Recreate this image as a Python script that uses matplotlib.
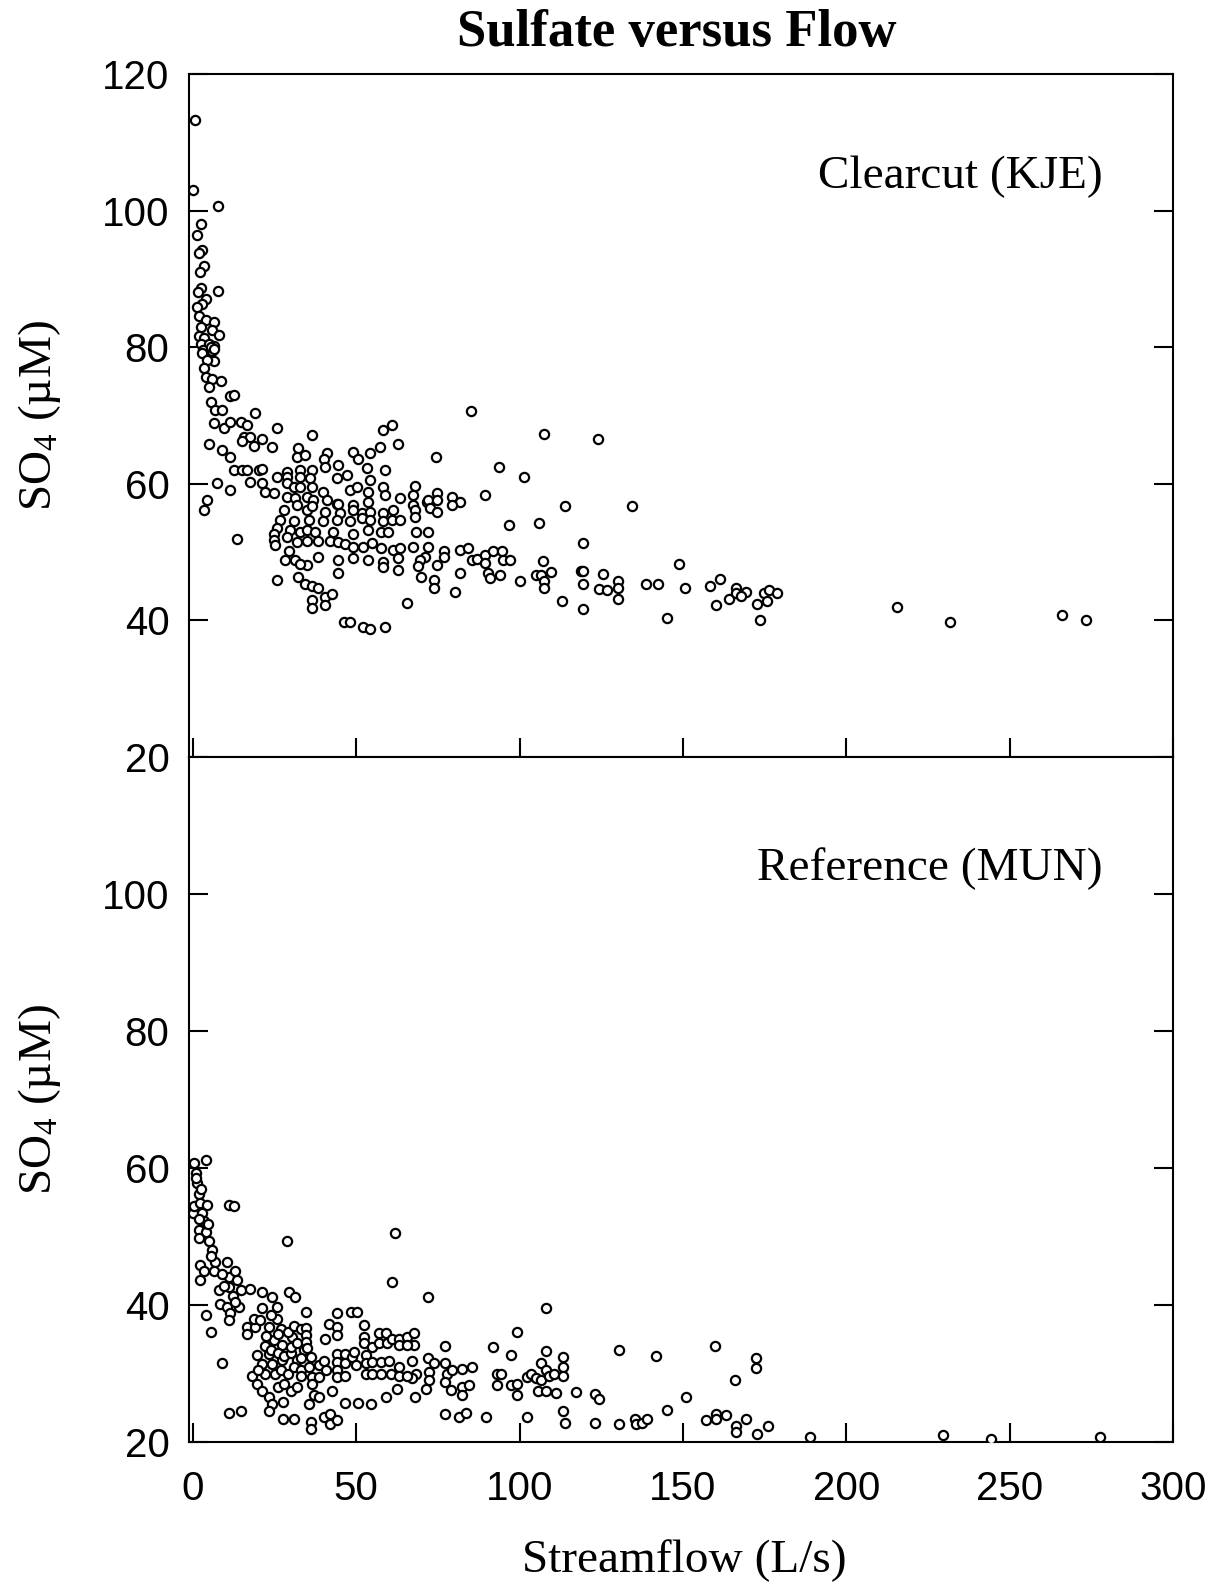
import matplotlib
matplotlib.use('Agg')
import matplotlib.pyplot as plt
import numpy as np

plt.rcParams['font.family'] = 'Liberation Serif'
plt.rcParams['mathtext.fontset'] = 'custom'
plt.rcParams['mathtext.rm'] = 'Liberation Serif'
plt.rcParams['mathtext.it'] = 'Liberation Serif:italic'

# Clearcut watershed (KJE): streamflow (L/s) and SO4 (uM)
kje_pts = [
    (0.6, 113.3), (0, 103.0), (7.7, 100.7), (2.4, 98.0), (1.3, 96.4), (2.9, 94.3), (1.8, 93.8),
    (3.4, 91.9), (2.1, 91.0), (2.4, 88.6), (1.7, 88.1), (7.7, 88.2), (3.9, 87.0), (2.9, 86.4),
    (1.3, 85.9), (1.8, 84.5), (3.9, 84.0), (6.4, 83.7), (2.6, 83.0), (5.9, 82.5), (7.9, 81.8),
    (1.8, 81.7), (3.4, 81.4), (2.4, 80.5), (5.0, 80.5), (6.5, 80.2), (3.0, 79.6), (5.8, 79.4),
    (5.4, 80.1), (6.4, 79.8), (2.9, 79.1), (6.4, 78.0), (4.4, 78.1), (3.4, 76.9), (3.9, 75.7),
    (5.9, 75.3), (8.5, 75.0), (4.9, 74.2), (11.5, 72.8), (12.5, 73.0), (5.4, 72.0), (6.9, 70.8),
    (9.0, 70.8), (19.1, 70.3), (6.4, 68.9), (9.5, 68.1), (11.5, 69.1), (14.6, 69.1), (16.6, 68.6),
    (25.7, 68.1), (36.4, 67.2), (15.6, 66.9), (17.6, 66.9), (21.2, 66.5), (15.1, 66.2), (18.6, 65.5),
    (24.2, 65.4), (4.9, 65.8), (9.0, 65.0), (11.5, 64.0), (60.8, 68.6), (58.3, 67.9), (62.8, 65.9),
    (57.2, 65.4), (32.3, 65.2), (31.8, 64.0), (34.4, 64.2), (41.0, 64.5), (40.0, 63.7), (49.1, 64.7),
    (50.6, 63.6), (54.2, 64.5), (44.5, 62.7), (40.5, 62.5), (12.5, 62.0), (15.1, 62.0), (16.6, 62.0),
    (20.1, 62.0), (21.2, 62.1), (28.8, 61.8), (32.8, 62.0), (36.4, 62.0), (28.8, 61.0), (32.8, 61.0),
    (35.9, 60.8), (47.1, 61.3), (44.0, 60.8), (53.2, 62.3), (58.8, 62.0), (54.2, 60.5), (7.4, 60.1),
    (11.5, 59.1), (17.6, 60.3), (21.2, 60.1), (22.2, 58.8), (24.7, 58.6), (25.7, 61.0), (28.8, 60.1),
    (30.8, 59.6), (32.8, 59.6), (36.4, 59.6), (39.9, 58.8), (48.1, 59.1), (50.1, 59.6), (53.7, 58.8),
    (58.3, 59.6), (58.8, 58.4), (67.9, 59.7), (67.4, 58.4), (71.5, 57.4), (4.4, 57.6), (3.4, 56.2),
    (28.8, 58.1), (31.3, 57.9), (34.9, 58.1), (36.9, 57.6), (41.0, 57.6), (44.0, 57.1), (44.5, 57.1),
    (49.1, 56.9), (53.7, 57.4), (27.8, 56.2), (31.8, 56.9), (34.9, 56.2), (36.4, 56.7), (40.5, 55.9),
    (45.0, 55.7), (49.1, 56.2), (51.6, 55.7), (54.2, 55.9), (58.3, 55.7), (61.3, 56.2), (63.3, 57.9),
    (67.4, 56.9), (67.9, 56.2), (26.7, 54.7), (30.8, 54.5), (35.4, 54.7), (39.9, 54.5), (44.0, 54.7),
    (48.1, 54.5), (51.6, 55.0), (54.2, 54.7), (58.3, 54.5), (60.8, 54.7), (63.3, 54.7), (67.9, 55.2),
    (25.7, 53.5), (29.8, 53.2), (32.8, 53.0), (34.9, 53.2), (37.4, 53.0), (43.0, 53.0), (49.1, 52.7),
    (53.7, 53.2), (57.7, 53.0), (59.8, 53.0), (68.4, 53.0), (72.0, 53.0), (24.7, 52.7), (24.7, 51.8),
    (25.2, 51.0), (13.5, 51.9), (28.8, 52.2), (31.8, 51.5), (34.9, 51.7), (38.4, 51.7), (42.0, 51.7),
    (44.5, 51.5), (46.6, 51.2), (49.1, 50.8), (52.2, 50.8), (54.7, 51.3), (57.7, 50.6), (61.3, 50.3),
    (63.3, 50.6), (67.4, 50.8), (72.0, 50.8), (71.0, 49.3), (29.3, 50.1), (28.3, 48.8), (31.3, 48.8),
    (34.9, 48.1), (32.8, 48.3), (38.4, 49.3), (44.5, 48.8), (49.1, 49.1), (53.7, 48.8), (58.3, 48.6),
    (62.8, 49.1), (58.3, 47.8), (62.8, 47.4), (69.4, 48.8), (68.9, 47.9), (69.9, 46.4), (25.7, 45.9),
    (44.5, 46.9), (32.3, 46.4), (34.4, 45.4), (36.4, 45.0), (38.4, 44.7), (40.5, 43.5), (42.5, 43.9),
    (36.4, 43.0), (36.4, 41.8), (40.5, 42.3), (65.4, 42.5), (46.1, 39.8), (48.1, 39.8), (52.2, 39.1),
    (54.2, 38.8), (58.8, 39.1),
    (85.2, 70.6), (107.5, 67.3), (124.1, 66.5), (74.5, 64.0), (93.7, 62.4), (101.2, 61.0), (74.7, 58.7),
    (72.1, 57.6), (74.7, 57.6), (72.6, 56.4), (74.7, 55.9), (79.3, 58.1), (81.8, 57.4), (79.3, 56.9),
    (89.4, 58.4), (113.8, 56.7), (134.4, 56.7), (96.8, 53.9), (105.8, 54.3), (119.4, 51.4), (76.7, 50.1),
    (76.7, 49.3), (81.8, 50.3), (84.3, 50.6), (85.3, 48.8), (86.9, 49.0), (89.4, 49.6), (89.4, 48.4),
    (92.0, 50.1), (94.5, 50.2), (95.0, 48.8), (97.0, 48.8), (74.7, 48.1), (73.7, 45.9), (73.7, 44.7),
    (81.8, 47.0), (80.3, 44.2), (90.4, 46.9), (90.9, 46.2), (94.0, 46.7), (100.1, 45.8), (105.0, 46.7),
    (106.5, 46.7), (109.5, 47.1), (107.5, 45.7), (107.5, 44.8), (107.2, 48.7), (113.1, 42.9),
    (118.7, 47.3), (119.5, 47.3), (119.5, 45.3), (119.5, 41.7), (125.6, 46.8), (124.3, 44.6),
    (126.8, 44.4), (130.1, 45.8), (130.1, 44.8), (130.1, 43.2), (138.7, 45.3), (142.2, 45.3),
    (145.0, 40.4), (148.9, 48.3), (150.7, 44.8), (158.3, 45.1), (161.3, 46.0), (160.0, 42.3),
    (164.1, 43.1), (166.1, 44.7), (166.1, 44.0), (169.2, 44.2), (167.7, 43.6), (172.5, 42.4),
    (174.8, 44.0), (176.3, 44.4), (178.8, 44.0), (175.8, 42.9), (173.5, 40.1),
    (215.5, 41.9), (231.8, 39.7), (266.1, 40.8), (273.4, 40.1),
]

# Reference watershed (MUN)
mun_pts = [
    (0.3, 60.7), (3.9, 61.1), (0.8, 59.3), (1.3, 57.8), (1.8, 56.2), (0, 53.4), (0.3, 54.4),
    (2.3, 54.9), (4.4, 54.6), (2.8, 53.4), (3.4, 52.2), (1.8, 51.0), (3.9, 50.7), (1.8, 49.8),
    (4.9, 49.3), (5.9, 48.0), (6.9, 46.3), (2.3, 45.8), (3.4, 44.9), (2.3, 43.6), (7.9, 42.2),
    (10.5, 46.3), (11.0, 44.1), (13.0, 44.9), (13.5, 43.6), (11.0, 42.7), (8.4, 40.2), (10.5, 39.7),
    (11.5, 38.8), (11.0, 37.8), (14.0, 39.7), (14.6, 42.2), (17.6, 42.4), (21.1, 41.9), (24.2, 41.2),
    (25.7, 39.7), (21.1, 39.5), (16.6, 36.8), (19.1, 36.8), (16.6, 35.8), (23.2, 36.8), (25.7, 38.0),
    (3.9, 38.5), (5.4, 36.1), (11.0, 54.6), (12.5, 54.4), (28.8, 49.3), (29.3, 41.9), (31.3, 41.2),
    (8.9, 31.6), (11.0, 24.2), (14.6, 24.6), (18.1, 29.7), (19.6, 28.5), (21.1, 27.5), (23.2, 26.6),
    (24.2, 25.6), (23.2, 24.6), (27.7, 25.8), (27.7, 23.4), (30.8, 23.4), (19.6, 32.7), (23.2, 32.9),
    (24.7, 34.9), (27.2, 34.1), (21.1, 31.4), (24.2, 31.4), (27.2, 32.0), (30.3, 35.3),
    (22.0, 34.0), (24.0, 33.5), (26.0, 33.0), (28.0, 32.5), (30.0, 33.0), (32.0, 32.0), (22.0, 30.0),
    (25.0, 30.0), (27.0, 30.5), (29.0, 30.0), (31.0, 31.0), (33.0, 30.5), (26.0, 28.0), (28.0, 28.5),
    (30.0, 27.5), (32.0, 28.0), (20.0, 30.5), (27.0, 36.5), (29.0, 36.0), (31.0, 37.0), (33.0, 36.5),
    (24.0, 38.5), (30.0, 33.8), (32.0, 34.5), (34.0, 33.5),
    (1.0, 58.5), (2.5, 57.0), (2.0, 52.5), (4.5, 51.8), (5.5, 47.2), (6.3, 45.0), (8.8, 44.5),
    (9.5, 42.8), (12.3, 41.3), (13.0, 40.5), (18.8, 38.0), (20.5, 37.8), (22.5, 35.5), (26.0, 35.8),
    (34.5, 39.0), (34.5, 36.6), (34.5, 35.6), (34.5, 34.6), (35.0, 33.7), (33.0, 32.2), (36.0, 32.4),
    (35.5, 31.0), (33.0, 29.7), (36.5, 29.5), (36.5, 28.5), (37.0, 26.8), (35.5, 25.6), (36.0, 22.9),
    (36.0, 21.9), (38.6, 31.2), (40.1, 31.9), (40.6, 30.5), (38.6, 29.5), (38.6, 26.6), (40.1, 23.7),
    (42.1, 24.1), (42.1, 22.7), (44.2, 23.2), (41.6, 37.3), (44.2, 38.8), (44.2, 36.8), (44.2, 35.6),
    (44.2, 32.9), (44.2, 31.7), (44.2, 30.5), (44.2, 29.5), (40.4, 35.1), (42.5, 27.5), (46.7, 32.9),
    (46.7, 31.5), (46.7, 29.7), (48.8, 32.4), (49.3, 33.1), (49.8, 31.2), (48.3, 39.0), (50.3, 39.0),
    (46.5, 25.7), (50.5, 25.7), (54.6, 25.6), (52.3, 37.1), (52.3, 35.4), (52.3, 34.4), (52.9, 32.7),
    (52.9, 31.5), (52.9, 30.0), (54.9, 33.9), (54.9, 31.7), (54.9, 30.0), (57.0, 35.9), (57.0, 34.4),
    (59.0, 35.9), (59.5, 34.4), (57.5, 31.7), (60.0, 31.9), (57.5, 30.0), (60.5, 30.0), (63.1, 31.0),
    (63.1, 29.7), (62.6, 27.8), (59.0, 26.6), (62.0, 50.5), (60.8, 43.3), (61.0, 35.1), (63.1, 35.1),
    (65.6, 35.4), (67.7, 35.9), (67.7, 34.1), (63.1, 34.1), (65.6, 34.1), (67.1, 31.9), (68.2, 30.0),
    (67.1, 29.3), (65.6, 29.7), (68.0, 26.6), (72.0, 41.1), (72.0, 32.2), (73.8, 31.5), (72.2, 30.2),
    (72.2, 29.1), (71.2, 27.8), (77.3, 34.0), (77.3, 31.5), (77.9, 30.0), (77.3, 28.8), (79.4, 30.5),
    (78.9, 27.6), (82.4, 28.0), (82.4, 26.8), (82.4, 30.7), (84.5, 28.3), (85.5, 30.9), (77.3, 24.1),
    (81.4, 23.6), (83.5, 24.2), (89.6, 23.6), (91.8, 33.8), (93.2, 30.0), (93.2, 28.3),
    (97.3, 32.7), (99.3, 36.1), (94.2, 30.0), (97.3, 28.3), (99.3, 28.5), (99.3, 26.8), (102.4, 29.5),
    (103.4, 30.0), (102.4, 23.6), (104.9, 29.3), (106.5, 31.5), (106.5, 29.1), (108.0, 33.3),
    (108.0, 30.5), (109.0, 29.6), (105.5, 27.5), (108.0, 27.5), (110.6, 30.0), (111.1, 27.1),
    (113.4, 32.4), (113.4, 31.0), (113.4, 29.7), (113.4, 24.5), (113.9, 22.8), (108.0, 39.6),
    (117.2, 27.3), (123.1, 27.0), (124.3, 26.3), (123.1, 22.8), (130.3, 33.5), (130.3, 22.7),
    (135.4, 23.4), (135.6, 22.7), (137.4, 22.8), (139.1, 23.4), (141.7, 32.6), (145.0, 24.7),
    (150.9, 26.6), (159.8, 34.0), (157.0, 23.2), (160.0, 24.1), (160.0, 23.4), (163.1, 23.9),
    (166.2, 22.4), (166.2, 21.5), (169.2, 23.4), (172.8, 21.2), (175.9, 22.3), (166.0, 29.0),
    (172.3, 32.3), (172.3, 30.8), (188.8, 20.8), (229.7, 21.0), (244.3, 20.5), (277.6, 20.8),
]

kje_x, kje_y = np.array(kje_pts).T
mun_x, mun_y = np.array(mun_pts).T

xticks = [0, 50, 100, 150, 200, 250, 300]
top_yticks = [20, 40, 60, 80, 100, 120]
bot_yticks = [20, 40, 60, 80, 100]

fig = plt.figure(figsize=(12.17, 15.89), dpi=100)
ax1 = fig.add_axes([0.1553, 0.5236, 0.8086, 0.4298])
ax2 = fig.add_axes([0.1553, 0.0925, 0.8086, 0.4311])

for ax, xs, ys, yt, name in [(ax1, kje_x, kje_y, top_yticks, 'Clearcut (KJE)'),
                              (ax2, mun_x, mun_y, bot_yticks, 'Reference (MUN)')]:
    ax.scatter(xs, ys, s=44, facecolors='white', edgecolors='black', linewidths=1.6, zorder=3)
    ax.set_xlim(-1.2, 300)
    ax.set_ylim(20, 120)
    ax.set_xticks(xticks)
    ax.set_yticks(yt)
    ax.tick_params(axis='both', direction='in', length=13.5, width=1.5,
                   left=True, right=True, top=False, bottom=True,
                   labelsize=29, labelfontfamily='Liberation Sans')
    ax.tick_params(axis='y', pad=14)
    ax.tick_params(axis='x', pad=20)
    for sp in ax.spines.values():
        sp.set_linewidth(1.5)
    ax.set_ylabel('SO$_4$ (\u00b5M)', fontsize=34)
    ax.yaxis.set_label_coords(-0.128, 0.5)
    ax.text(278.5, 105 if ax is ax1 else 103.7, name, ha='right', va='center', fontsize=34)

ax1.tick_params(axis='x', labelbottom=False)

fig.text(0.556, 0.9795, 'Sulfate versus Flow', ha='center', va='center',
         fontsize=38, fontweight='bold')
fig.text(0.562, 0.018, 'Streamflow (L/s)', ha='center', va='center', fontsize=34)

fig.savefig('out.png', dpi=100)
